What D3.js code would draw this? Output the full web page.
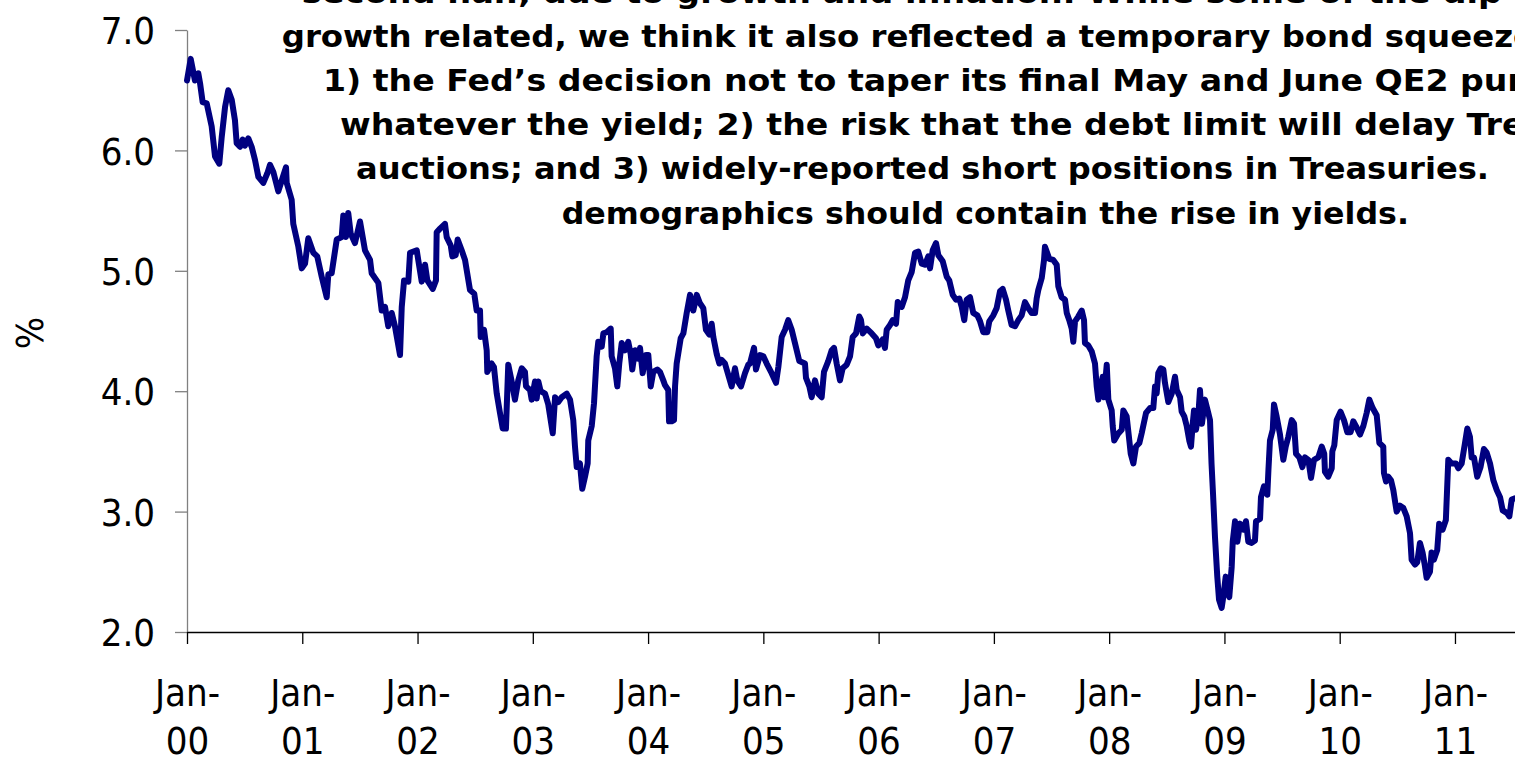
<!DOCTYPE html>
<html>
<head>
<meta charset="utf-8">
<script src="https://cdn.jsdelivr.net/npm/d3@7"></script>
<style>
  html, body { margin: 0; padding: 0; background: #fff; overflow: hidden; }
  svg { display: block; }
  .tick-label { font-family: "Liberation Sans Narrow", "DejaVu Sans Condensed", "Arial Narrow", sans-serif; font-stretch: condensed; font-size: 38px; fill: #000; }
  .note { font-family: "Comic Sans MS", "DejaVu Sans", sans-serif; font-weight: bold; font-size: 30px; fill: #000; white-space: pre; }
</style>
</head>
<body>
<svg id="chart" width="1515" height="763"></svg>
<script>
// US 10-year Treasury yield (%), weekly closes; time given as fractional years since Jan 2000
const yearsSince2000 = [
  0.000, 0.032, 0.069, 0.098, 0.113, 0.136, 0.171, 0.214, 0.243, 0.280, 0.301, 0.330, 0.358, 0.388, 0.416, 0.431,
  0.460, 0.483, 0.503, 0.532, 0.561, 0.590, 0.619, 0.662, 0.697, 0.720, 0.749, 0.792, 0.822, 0.859, 0.865, 0.908,
  0.922, 0.966, 0.995,
  1.024, 1.052, 1.096, 1.130, 1.169, 1.212, 1.226, 1.255, 1.299, 1.342, 1.356, 1.379, 1.399, 1.420, 1.457, 1.501,
  1.544, 1.588, 1.602, 1.660, 1.689, 1.718, 1.746, 1.776, 1.804, 1.848, 1.863, 1.883, 1.920, 1.935, 1.993,
  2.036, 2.065, 2.085, 2.132, 2.160, 2.166, 2.195, 2.238, 2.253, 2.288, 2.302, 2.331, 2.348, 2.383, 2.412, 2.455,
  2.492, 2.513, 2.542, 2.548, 2.577, 2.600, 2.605, 2.643, 2.663, 2.687, 2.715, 2.739, 2.767, 2.787, 2.817, 2.845,
  2.874, 2.904, 2.932, 2.941, 2.976, 2.990,
  3.019, 3.034, 3.048, 3.068, 3.106, 3.134, 3.173, 3.193, 3.221, 3.251, 3.294, 3.323, 3.351, 3.366, 3.381, 3.409,
  3.429, 3.453, 3.476, 3.481, 3.511, 3.531, 3.554, 3.568, 3.598, 3.612, 3.641, 3.676, 3.684, 3.713, 3.733, 3.750,
  3.771, 3.800, 3.828, 3.849, 3.863, 3.887, 3.915, 3.930, 3.953, 3.982,
  4.002, 4.023, 4.045, 4.080, 4.103, 4.132, 4.147, 4.175, 4.182, 4.205, 4.225, 4.234, 4.248, 4.283, 4.306, 4.335,
  4.364, 4.392, 4.422, 4.450, 4.479, 4.502, 4.531, 4.552, 4.566, 4.595, 4.618, 4.639, 4.667, 4.682, 4.725, 4.754,
  4.774, 4.806, 4.841, 4.869, 4.884, 4.919, 4.936, 4.971,
  5.000, 5.029, 5.072, 5.110, 5.130, 5.159, 5.188, 5.216, 5.246, 5.274, 5.312, 5.361, 5.370, 5.399, 5.419, 5.448,
  5.477, 5.506, 5.526, 5.563, 5.593, 5.613, 5.636, 5.665, 5.688, 5.723, 5.752, 5.775, 5.804, 5.832, 5.847, 5.862,
  5.897, 5.940, 5.977, 5.997,
  6.035, 6.055, 6.070, 6.099, 6.122, 6.151, 6.166, 6.200, 6.229, 6.257, 6.287, 6.316, 6.344, 6.374, 6.402, 6.431,
  6.446, 6.469, 6.498, 6.518, 6.556, 6.591, 6.613, 6.643, 6.671, 6.700, 6.721, 6.743, 6.764, 6.793, 6.821, 6.856,
  6.880, 6.908, 6.943, 6.960, 6.995,
  7.024, 7.053, 7.076, 7.105, 7.125, 7.154, 7.183, 7.212, 7.241, 7.270, 7.299, 7.328, 7.357, 7.371, 7.385, 7.415,
  7.435, 7.443, 7.458, 7.480, 7.515, 7.545, 7.559, 7.588, 7.617, 7.632, 7.654, 7.675, 7.689, 7.704, 7.732, 7.762,
  7.782, 7.790, 7.819, 7.849, 7.877, 7.892, 7.906, 7.927, 7.944, 7.955, 7.979, 7.993,
  8.022, 8.031, 8.044, 8.080, 8.109, 8.123, 8.152, 8.175, 8.187, 8.210, 8.233, 8.262, 8.282, 8.320, 8.354, 8.383,
  8.398, 8.412, 8.426, 8.447, 8.470, 8.484, 8.513, 8.543, 8.571, 8.586, 8.615, 8.629, 8.652, 8.673, 8.695, 8.710,
  8.725, 8.736, 8.753, 8.773, 8.788, 8.805, 8.831, 8.860, 8.875, 8.888, 8.901, 8.918, 8.938, 8.953, 8.976, 8.990,
  9.011, 9.025, 9.042, 9.063, 9.072, 9.092, 9.112, 9.135, 9.164, 9.187, 9.207, 9.236, 9.265, 9.274, 9.309, 9.317,
  9.343, 9.372, 9.382, 9.395, 9.419, 9.430, 9.453, 9.482, 9.511, 9.532, 9.554, 9.584, 9.604, 9.621, 9.650, 9.676,
  9.699, 9.728, 9.751, 9.777, 9.814, 9.844, 9.866, 9.872, 9.901, 9.931, 9.936, 9.953, 9.974,
  10.007, 10.037, 10.066, 10.095, 10.118, 10.141, 10.176, 10.205, 10.234, 10.257, 10.286, 10.321, 10.344, 10.378,
  10.384, 10.402, 10.422, 10.445, 10.465, 10.494, 10.523, 10.552, 10.581, 10.610, 10.624, 10.653, 10.673, 10.696,
  10.719, 10.739, 10.754, 10.783, 10.797, 10.817, 10.846, 10.863, 10.893, 10.921, 10.942, 10.971,
  11.009, 11.029, 11.058, 11.087, 11.107, 11.130, 11.145, 11.165, 11.193, 11.222, 11.251, 11.275, 11.304, 11.333,
  11.362, 11.391, 11.414, 11.449, 11.472, 11.492, 11.520
];
const yields = [
  6.58, 6.76, 6.58, 6.64, 6.56, 6.40, 6.39, 6.20, 5.95, 5.89, 6.11, 6.36, 6.50, 6.42, 6.25, 6.06,
  6.03, 6.09, 6.04, 6.10, 6.03, 5.92, 5.78, 5.73, 5.81, 5.88, 5.82, 5.66, 5.75, 5.86, 5.73, 5.59,
  5.39, 5.20, 5.02,
  5.06, 5.27, 5.15, 5.12, 4.95, 4.78, 4.97, 4.98, 5.26, 5.28, 5.46, 5.28, 5.48, 5.31, 5.23, 5.41,
  5.17, 5.09, 4.98, 4.90, 4.67, 4.70, 4.54, 4.65, 4.54, 4.30, 4.70, 4.92, 4.91, 5.15, 5.17,
  4.91, 5.05, 4.92, 4.85, 4.92, 5.32, 5.35, 5.39, 5.28, 5.21, 5.12, 5.13, 5.26, 5.17, 5.09, 4.84,
  4.81, 4.67, 4.67, 4.45, 4.51, 4.34, 4.16, 4.23, 4.20, 3.98, 3.82, 3.69, 3.69, 4.22, 4.08, 3.93,
  4.09, 4.19, 4.16, 4.04, 4.01, 3.93,
  4.08, 3.94, 4.08, 4.00, 3.98, 3.89, 3.65, 3.95, 3.91, 3.95, 3.98, 3.93, 3.76, 3.54, 3.37, 3.40,
  3.19, 3.29, 3.40, 3.59, 3.71, 3.90, 4.29, 4.41, 4.37, 4.48, 4.49, 4.52, 4.29, 4.19, 4.04, 4.23,
  4.40, 4.34, 4.41, 4.31, 4.18, 4.34, 4.27, 4.36, 4.15, 4.30,
  4.30, 4.04, 4.16, 4.18, 4.16, 4.09, 4.05, 4.01, 3.75, 3.75, 3.76, 4.04, 4.23, 4.44, 4.48, 4.65,
  4.80, 4.67, 4.80, 4.73, 4.69, 4.51, 4.47, 4.56, 4.45, 4.31, 4.23, 4.26, 4.23, 4.18, 4.04, 4.19,
  4.09, 4.04, 4.15, 4.22, 4.23, 4.36, 4.18, 4.30,
  4.29, 4.23, 4.15, 4.07, 4.20, 4.45, 4.51, 4.59, 4.51, 4.40, 4.25, 4.23, 4.11, 4.04, 3.95, 4.09,
  3.98, 3.95, 4.16, 4.25, 4.34, 4.36, 4.23, 4.09, 4.19, 4.22, 4.29, 4.45, 4.48, 4.62, 4.59, 4.48,
  4.52, 4.48, 4.44, 4.38,
  4.43, 4.36, 4.51, 4.55, 4.59, 4.56, 4.74, 4.70, 4.78, 4.92, 4.99, 5.15, 5.16, 5.06, 5.05, 5.12,
  5.02, 5.17, 5.23, 5.13, 5.08, 4.95, 4.92, 4.80, 4.76, 4.77, 4.70, 4.59, 4.76, 4.78, 4.65, 4.63,
  4.58, 4.49, 4.49, 4.58, 4.63,
  4.69, 4.83, 4.85, 4.76, 4.67, 4.55, 4.54, 4.59, 4.63, 4.74, 4.69, 4.65, 4.65, 4.77, 4.84, 4.94,
  5.09, 5.20, 5.16, 5.10, 5.09, 5.05, 4.87, 4.78, 4.76, 4.65, 4.59, 4.52, 4.41, 4.58, 4.62, 4.67,
  4.59, 4.40, 4.38, 4.33, 4.23, 4.04, 3.93, 4.04, 4.12, 3.95, 4.22, 3.93,
  3.84, 3.71, 3.59, 3.65, 3.68, 3.84, 3.79, 3.59, 3.48, 3.40, 3.54, 3.57, 3.65, 3.82, 3.86, 3.86,
  4.04, 3.98, 4.15, 4.19, 4.18, 4.07, 3.91, 3.98, 4.12, 4.01, 3.95, 3.83, 3.79, 3.71, 3.59, 3.54,
  3.73, 3.84, 3.68, 3.79, 4.01, 3.73, 3.93, 3.82, 3.76, 3.40, 3.15, 2.79, 2.46, 2.27, 2.20, 2.29,
  2.46, 2.35, 2.29, 2.54, 2.75, 2.92, 2.75, 2.90, 2.85, 2.92, 2.75, 2.74, 2.76, 2.92, 2.94, 3.12,
  3.21, 3.14, 3.35, 3.59, 3.68, 3.89, 3.79, 3.64, 3.43, 3.54, 3.62, 3.76, 3.73, 3.48, 3.45, 3.37,
  3.45, 3.43, 3.28, 3.43, 3.45, 3.54, 3.48, 3.33, 3.29, 3.36, 3.50, 3.55, 3.76,
  3.83, 3.76, 3.66, 3.66, 3.75, 3.71, 3.64, 3.71, 3.82, 3.93, 3.86, 3.80, 3.57, 3.54,
  3.32, 3.25, 3.29, 3.26, 3.18, 3.00, 3.05, 3.03, 2.96, 2.82, 2.60, 2.56, 2.58, 2.74,
  2.66, 2.55, 2.45, 2.50, 2.66, 2.60, 2.68, 2.90, 2.85, 2.93, 3.43, 3.40,
  3.40, 3.36, 3.40, 3.57, 3.69, 3.62, 3.45, 3.45, 3.29, 3.37, 3.52, 3.49, 3.40, 3.26,
  3.18, 3.12, 3.01, 2.99, 2.96, 3.10, 3.11
];

// Axis ticks
const yTicks = [2, 3, 4, 5, 6, 7];
const xTickYears = [2000, 2001, 2002, 2003, 2004, 2005, 2006, 2007, 2008, 2009, 2010, 2011];
const xTickTop = "Jan-";
const xTickBottom = ["00", "01", "02", "03", "04", "05", "06", "07", "08", "09", "10", "11"];
const yAxisTitle = "%";

// Commentary text, one entry per line
const noteLines = [
  "second half, due to growth and inflation. While some of the dip in yields was",
  "growth related, we think it also reflected a temporary bond squeeze due to:",
  "1) the Fed\u2019s decision not to taper its final May and June QE2 purchases",
  "whatever the yield; 2) the risk that the debt limit will delay Treasury",
  "auctions; and 3) widely-reported short positions in Treasuries.",
  "demographics should contain the rise in yields."
];

const svg = d3.select("#chart");

const x = d3.scaleLinear().domain([2000, 2012]).range([187, 187 + 12 * 115.27]);
const y = d3.scaleLinear().domain([2, 7]).range([632, 30]);

const series = yearsSince2000.map((t, i) => ({ t: 2000 + t, v: yields[i] }));

// Y axis (grey)
const yAxis = svg.append("g")
  .attr("transform", `translate(${x(2000)},0)`)
  .call(d3.axisLeft(y).tickValues(yTicks).tickFormat(d3.format(".1f"))
    .tickSize(12).tickSizeOuter(0).tickPadding(20));
yAxis.select(".domain").attr("stroke", "#808080").attr("stroke-width", 1.3);
yAxis.selectAll(".tick line").attr("stroke", "#808080").attr("stroke-width", 1.3);
yAxis.selectAll(".tick text").attr("class", "tick-label").attr("font-family", null).attr("font-size", null)
  .attr("dy", "0.36em");

// X axis (black), running on past the right edge
const xAxis = svg.append("g")
  .attr("transform", `translate(0,${y(2)})`)
  .call(d3.axisBottom(x).tickValues(xTickYears).tickFormat("")
    .tickSize(12).tickSizeOuter(0));
xAxis.select(".domain").attr("stroke", "#000").attr("stroke-width", 1.3);
xAxis.selectAll(".tick line").attr("stroke", "#000").attr("stroke-width", 1.3);
xAxis.selectAll(".tick text").remove();
xAxis.selectAll(".tick").each(function (d, i) {
  const g = d3.select(this);
  g.append("text").attr("class", "tick-label").attr("text-anchor", "middle")
    .attr("y", 74).text(xTickTop);
  g.append("text").attr("class", "tick-label").attr("text-anchor", "middle")
    .attr("y", 122).text(xTickBottom[i]);
});

// Y axis title
svg.append("text")
  .attr("class", "tick-label")
  .attr("text-anchor", "middle")
  .attr("transform", `translate(43,${(y(7) + y(2)) / 2 + 2}) rotate(-90)`)
  .text(yAxisTitle);

// Yield line
const line = d3.line().x(d => x(d.t)).y(d => y(d.v));
svg.append("path")
  .datum(series)
  .attr("fill", "none")
  .attr("stroke", "#000080")
  .attr("stroke-width", 6)
  .attr("stroke-linejoin", "round")
  .attr("stroke-linecap", "round")
  .attr("d", line);

// Commentary block, drawn over the chart.
// Each line starts at a fixed x; the first `fitChars` characters are stretched to end at `fitEnd`.
const noteLayout = [
  { x0: 301.7, fitChars: 62, fitEnd: 1478 },
  { x0: 281.7, fitChars: 66, fitEnd: 1513 },
  { x0: 323.0, fitChars: 62, fitEnd: 1460 },
  { x0: 340.0, fitChars: 62, fitEnd: 1455 },
  { x0: 356.0, fitChars: 64, fitEnd: 1489 },
  { x0: 561.7, fitChars: 47, fitEnd: 1409 }
];
const noteText = svg.append("g").selectAll("text")
  .data(noteLines)
  .join("text")
  .attr("class", "note")
  .attr("x", (d, i) => noteLayout[i].x0)
  .attr("y", (d, i) => 2.5 + i * 44.2)
  .text(d => d);
noteText.each(function (d, i) {
  const L = noteLayout[i];
  const n = Math.min(L.fitChars, d.length);
  const sub = this.getSubStringLength(0, n);
  const k = (L.fitEnd - L.x0) / sub;
  const w = this.getComputedTextLength();
  d3.select(this).attr("textLength", w * k).attr("lengthAdjust", "spacingAndGlyphs");
});
</script>
</body>
</html>
